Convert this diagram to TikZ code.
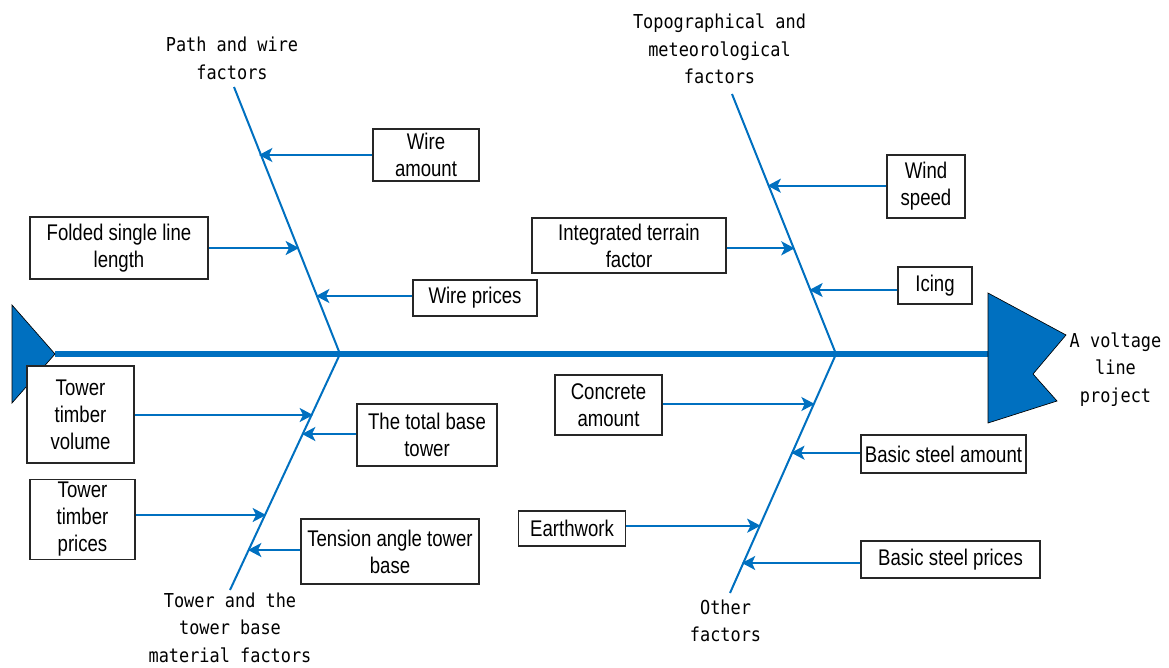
\documentclass[tikz,border=0pt]{standalone}
\usepackage{fontspec}
\usetikzlibrary{arrows.meta,calc}
\newfontfamily\boxfont[FakeStretch=0.82]{Liberation Sans}
\newfontfamily\labfont[FakeStretch=0.88]{DejaVu Sans Mono}
\definecolor{fishblue}{HTML}{0070C0}
\tikzset{
  bx/.style 2 args={draw=black!85, line width=0.8pt, fill=white, inner sep=0pt,
    minimum width=#1*0.75pt, minimum height=#2*0.75pt, align=center,
    font=\boxfont\fontsize{17pt}{20.25pt}\selectfont},
  lab/.style={align=center, inner sep=0pt, font=\labfont\fontsize{14.4pt}{20.5pt}\selectfont},
  bone/.style={draw=fishblue, line width=1.5pt},
  arr/.style={draw=fishblue, line width=1.5pt, -{Stealth[length=10pt,width=10.5pt,inset=2.5pt]}},
  spine/.style={draw=fishblue, line width=4pt},
  fishpart/.style={fill=fishblue, draw=black, line width=0.5pt}
}
\begin{document}
\begin{tikzpicture}[x=0.75pt,y=-0.75pt]
\useasboundingbox (0,0) rectangle (1169,667);

% bone end points
\coordinate (tail) at (55,354);
\coordinate (headL) at (988,354);
\coordinate (jL) at (340,354);
\coordinate (jR) at (836,354);
\coordinate (ulT) at (234,87);
\coordinate (llB) at (230,590);
\coordinate (urT) at (732,94);
\coordinate (lrB) at (730,593);

% spine
\draw[spine] (tail) -- (headL);
% tail and head
\filldraw[fishpart] (12,305) -- (tail) -- (12,403) -- cycle;
\filldraw[fishpart] (988,293) -- (1066,335) -- (1033,374) -- (1057,401) -- (988,423) -- cycle;

% bones
\draw[bone] (ulT) -- (jL) -- (llB);
\draw[bone] (urT) -- (jR) -- (lrB);

% arrow end points on bones
\coordinate (wae) at (259,155);
\coordinate (fle) at (299,248);
\coordinate (wpe) at (316,296);
\coordinate (tve) at (313,415);
\coordinate (tbe) at (302,434);
\coordinate (tpe) at (266,515);
\coordinate (tae) at (248,550);
\coordinate (wse) at (767.5,185.7);
\coordinate (ite) at (794.6,248.3);
\coordinate (ice) at (809.3,290);
\coordinate (cae) at (814.7,404);
\coordinate (bsae) at (791.2,452.7);
\coordinate (ewe) at (760.5,525.7);
\coordinate (bspe) at (741.9,563);

% boxes
\node[bx={106}{52}] (wa) at (426,155) {Wire\\amount};
\node[bx={178}{62}] (fl) at (119,248) {Folded single line\\length};
\node[bx={124}{36}] (wp) at (475,298) {Wire prices};
\node[bx={107}{97}] (tv) at (80.5,414.5) {Tower\\timber\\volume};
\node[bx={140}{62}] (tb) at (427,435) {The total base\\tower};
\node[bx={105}{80}] (tp) at (82.5,519.5) {Tower\\timber\\prices};
\node[bx={178}{65}] (ta) at (390,551.5) {Tension angle tower\\base};
\node[bx={194}{55}] (it) at (629,245.5) {Integrated terrain\\factor};
\node[bx={78}{63}] (ws) at (926,186.5) {Wind\\speed};
\node[bx={74}{37}] (ic) at (935,285.5) {Icing};
\node[bx={107}{60}] (ca) at (608.5,405) {Concrete\\amount};
\node[bx={165}{38}] (bsa) at (943.5,454) {Basic steel amount};
\node[bx={107}{35}] (ew) at (572,528.5) {Earthwork};
\node[bx={179}{37}] (bsp) at (950.5,559.5) {Basic steel prices};

% arrows
\draw[arr] (wa.west |- wae) -- (wae);
\draw[arr] (fl.east |- fle) -- (fle);
\draw[arr] (wp.west |- wpe) -- (wpe);
\draw[arr] (tv.east |- tve) -- (tve);
\draw[arr] (tb.west |- tbe) -- (tbe);
\draw[arr] (tp.east |- tpe) -- (tpe);
\draw[arr] (ta.west |- tae) -- (tae);
\draw[arr] (ws.west |- wse) -- (wse);
\draw[arr] (it.east |- ite) -- (ite);
\draw[arr] (ic.west |- ice) -- (ice);
\draw[arr] (ca.east |- cae) -- (cae);
\draw[arr] (bsa.west |- bsae) -- (bsae);
\draw[arr] (ew.east |- ewe) -- (ewe);
\draw[arr] (bsp.west |- bspe) -- (bspe);

% category labels
\node[lab] (l1) at (232,58.5) {Path and wire\\factors};
\node[lab] (l2) at (719.5,48.8) {Topographical and\\meteorological\\factors};
\node[lab] (l3) at (230,627.7) {Tower and the\\tower base\\material factors};
\node[lab] (l4) at (725.5,621) {Other\\factors};
\node[lab] (l5) at (1115.5,369.5) {A voltage\\line\\project};
\end{tikzpicture}
\end{document}
